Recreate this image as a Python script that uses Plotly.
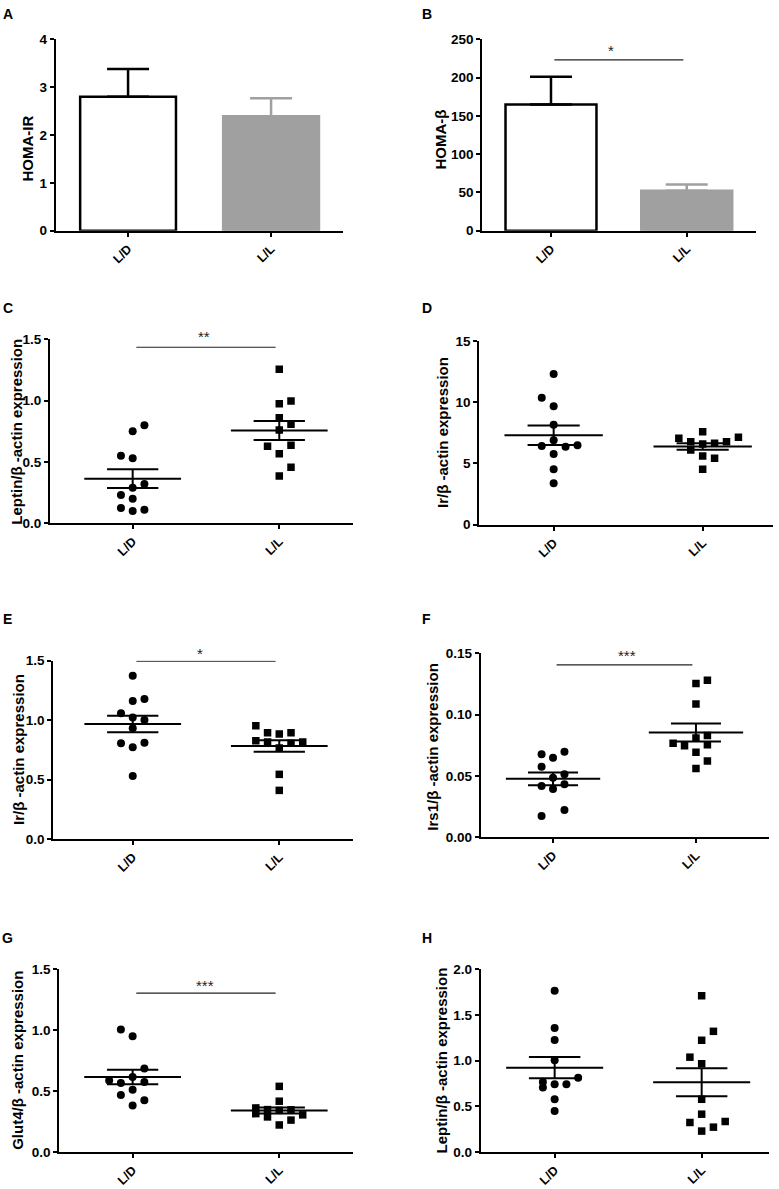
import numpy as np
import plotly.graph_objects as go

W, H = 779, 1189
groups = ["L/D", "L/L"]

# ---------------- data ----------------
# Panel A: HOMA-IR (mean, SEM)
homa_ir_mean = [2.80, 2.39]
homa_ir_sem = [0.58, 0.38]
# Panel B: HOMA-beta (mean, SEM)
homa_b_mean = [165.0, 52.3]
homa_b_sem = [36.0, 8.2]

# Panel C: Leptin / beta-actin
C_LD = [0.80, 0.75, 0.55, 0.53, 0.29, 0.32, 0.23, 0.20, 0.125, 0.10, 0.11]
C_LL = [1.255, 0.975, 0.997, 0.86, 0.807, 0.76, 0.628, 0.636, 0.568, 0.457, 0.386]
# Panel D: Ir / beta-actin
D_LD = [12.31, 10.37, 9.67, 8.17, 6.89, 6.43, 6.37, 6.48, 5.77, 4.52, 3.38]
D_LL = [7.59, 7.05, 7.14, 6.78, 6.59, 6.65, 6.78, 6.10, 5.61, 5.42, 4.52]
# Panel E: Ir / beta-actin
E_LD = [1.374, 1.161, 1.178, 1.057, 1.023, 1.001, 0.931, 0.805, 0.771, 0.810, 0.530]
E_LL = [0.953, 0.894, 0.883, 0.894, 0.827, 0.816, 0.805, 0.816, 0.765, 0.544, 0.409]
# Panel F: Irs1 / beta-actin
F_LD = [0.0677, 0.0649, 0.0698, 0.0576, 0.0486, 0.0514, 0.0418, 0.0394, 0.0432, 0.0174, 0.0223]
F_LL = [0.128, 0.1253, 0.1087, 0.0829, 0.081, 0.0766, 0.0747, 0.0755, 0.0693, 0.0622, 0.056]
# Panel G: Glut4 / beta-actin
G_LD = [1.005, 0.950, 0.686, 0.615, 0.588, 0.566, 0.574, 0.512, 0.468, 0.425, 0.381]
G_LL = [0.539, 0.417, 0.362, 0.348, 0.342, 0.346, 0.315, 0.288, 0.305, 0.262, 0.222]
# Panel H: Leptin / beta-actin
H_LD = [1.764, 1.358, 1.227, 1.005, 0.766, 0.705, 0.741, 0.741, 0.813, 0.577, 0.45]
H_LL = [1.71, 1.321, 1.223, 1.038, 0.966, 0.577, 0.414, 0.323, 0.334, 0.272, 0.229]

# swarm column (horizontal slot) of each point, layout only
C_LD_col = [1, 0, -1, 0, 0, 1, -1, 0, -1, 0, 1]
C_LL_col = [0, 0, 1, 0, 1, 0, -1, 1, 0, 1, 0]
D_LD_col = [0, -1, 0, 0, 0, -1, 1, 2, 0, 0, 0]
D_LL_col = [0, -2, 3, -1, 0, 1, 2, -1, 0, 1, 0]
E_LD_col = [0, 0, 1, -1, 0, 1, 0, -1, 0, 1, 0]
E_LL_col = [-2, -1, 0, 1, -2, -1, 1, 2, 0, 0, 0]
F_LD_col = [-1, 0, 1, -1, 0, 1, -1, 0, 1, -1, 1]
F_LL_col = [1, 0, 0, 1, 0, -2, -1, 1, 0, 1, 0]
G_LD_col = [-1, 0, 1, 0, -2, -1, 1, 0, -1, 1, 0]
G_LL_col = [0, 0, -2, -1, 0, 1, -2, -1, 2, 1, 0]
H_LD_col = [0, 0, 0, 0, -1, -1, 0, 1, 2, 0, 0]
H_LL_col = [0, 1, 0, -1, 0, 0, 0, -1, 2, 1, 0]

y_titles = ["HOMA-IR", "HOMA-β", "Leptin/β -actin expression", "Ir/β -actin expression",
            "Ir/β -actin expression", "Irs1/β -actin expression",
            "Glut4/β -actin expression", "Leptin/β -actin expression"]
panel_letters = ["A", "B", "C", "D", "E", "F", "G", "H"]
sig_text = {2: "*", 3: "**", 5: "*", 6: "***", 7: "***"}
sig_y = {2: 223, 3: 1.435, 5: 1.497, 6: 0.1405, 7: 1.304}

# ---------------- layout geometry (pixels) ----------------
boxes = {  # x0, x1, ytop, ybottom
    1: (55.7, 343, 39.3, 230.7),
    2: (482.3, 755.7, 39.3, 230.7),
    3: (50, 353, 339.3, 523.3),
    4: (479.3, 773, 341, 524.7),
    5: (53.3, 353, 660.7, 839),
    6: (480.7, 769.3, 653.3, 837.3),
    7: (59.3, 353, 969.3, 1152),
    8: (480.7, 769.3, 969.3, 1152),
}
xranges = {1: [-0.506, 1.503], 2: [-0.506, 1.508], 3: [-0.564, 1.503], 4: [-0.499, 1.472],
           5: [-0.542, 1.503], 6: [-0.506, 1.513], 7: [-0.5, 1.503], 8: [-0.503, 1.46]}
yaxes_cfg = {
    1: dict(range=[0, 4], dtick=1, tickformat="d"),
    2: dict(range=[0, 250], dtick=50, tickformat="d"),
    3: dict(range=[0, 1.5], dtick=0.5, tickformat=".1f"),
    4: dict(range=[0, 15], dtick=5, tickformat="d"),
    5: dict(range=[0, 1.5], dtick=0.5, tickformat=".1f"),
    6: dict(range=[0, 0.15], dtick=0.05, tickformat=".2f"),
    7: dict(range=[0, 1.5], dtick=0.5, tickformat=".1f"),
    8: dict(range=[0, 2.0], dtick=0.5, tickformat=".1f"),
}
title_pos = {1: (27.5, 148), 2: (440.5, 140), 3: (17, 431.7), 4: (442.5, 432.5),
             5: (18, 750), 6: (433, 746.7), 7: (18, 1060.8), 8: (441.7, 1060.8)}
letter_pos = {1: (8, 13.5), 2: (427, 13.5), 3: (8, 308.5), 4: (427, 308), 5: (8, 618.5),
              6: (427, 618.5), 7: (8, 937.5), 8: (427, 937.5)}
star_pos = {2: (610.7, 50), 3: (204, 336), 5: (200, 653), 6: (626.7, 655), 7: (205, 985)}

FONT = "Liberation Sans, Arial, sans-serif"
COL_STEP = 0.08
MEAN_HW = 0.33
SEM_HW = 0.175

fig = go.Figure()


def ax(i, kind):
    return kind if i == 1 else f"{kind}{i}"


# ---------------- bar panels ----------------
bar_colors = ["white", "#a0a0a0"]
bar_lines = ["black", "#a0a0a0"]
for i, (means, sems) in {1: (homa_ir_mean, homa_ir_sem), 2: (homa_b_mean, homa_b_sem)}.items():
    for g in range(2):
        fig.add_trace(go.Bar(
            x=[g], y=[means[g]], width=0.67,
            marker=dict(color=bar_colors[g], line=dict(color=bar_lines[g], width=2.5)),
            error_y=dict(type="data", array=[sems[g]], arrayminus=[0], symmetric=False,
                         color=bar_lines[g], thickness=2.5, width=21),
            xaxis=ax(i, "x"), yaxis=ax(i, "y"), showlegend=False,
        ))

# ---------------- scatter panels ----------------
scatter_panels = {
    3: (C_LD, C_LL, C_LD_col, C_LL_col),
    4: (D_LD, D_LL, D_LD_col, D_LL_col),
    5: (E_LD, E_LL, E_LD_col, E_LL_col),
    6: (F_LD, F_LL, F_LD_col, F_LL_col),
    7: (G_LD, G_LL, G_LD_col, G_LL_col),
    8: (H_LD, H_LL, H_LD_col, H_LL_col),
}
for i, (ld, ll, ldc, llc) in scatter_panels.items():
    for g, (vals, cols, sym) in enumerate([(ld, ldc, "circle"), (ll, llc, "square")]):
        v = np.array(vals)
        xs = g + COL_STEP * np.array(cols)
        fig.add_trace(go.Scatter(
            x=xs, y=v, mode="markers",
            marker=dict(symbol=sym, size=8 if sym == "circle" else 7.5, color="black"),
            xaxis=ax(i, "x"), yaxis=ax(i, "y"), showlegend=False,
        ))
        m = v.mean()
        s = v.std(ddof=1) / np.sqrt(len(v))
        fig.add_trace(go.Scatter(
            x=[g - MEAN_HW, g + MEAN_HW, None,
               g - SEM_HW, g + SEM_HW, None,
               g - SEM_HW, g + SEM_HW, None, g, g],
            y=[m, m, None, m + s, m + s, None, m - s, m - s, None, m - s, m + s],
            mode="lines", line=dict(color="black", width=2),
            xaxis=ax(i, "x"), yaxis=ax(i, "y"), showlegend=False,
        ))

# ---------------- axes ----------------
YTICKFONT = dict(family=FONT, size=13.5, color="black", weight="bold")
XTICKFONT = dict(family=FONT, size=12.5, color="black", weight="bold")
layout_axes = {}
for i in range(1, 9):
    x0, x1, yt, yb = boxes[i]
    xd = [x0 / W, x1 / W]
    yd = [1 - yb / H, 1 - yt / H]
    xname = "xaxis" if i == 1 else f"xaxis{i}"
    yname = "yaxis" if i == 1 else f"yaxis{i}"
    layout_axes[xname] = dict(
        domain=xd, range=xranges[i], anchor=ax(i, "y"), automargin=False,
        tickvals=[0, 1], ticktext=groups, tickangle=-45,
        showline=True, linecolor="black", linewidth=2,
        ticks="outside", ticklen=4, tickwidth=2, tickcolor="black",
        showgrid=False, zeroline=False, fixedrange=True,
        tickfont=XTICKFONT,
    )
    yc = yaxes_cfg[i]
    layout_axes[yname] = dict(
        domain=yd, range=yc["range"], dtick=yc["dtick"], tick0=0, tickformat=yc["tickformat"],
        anchor=ax(i, "x"), automargin=False,
        showline=True, linecolor="black", linewidth=2,
        ticks="outside", ticklen=4, tickwidth=2, tickcolor="black",
        showgrid=False, zeroline=False, fixedrange=True,
        tickfont=YTICKFONT,
    )

annotations = []
for i in range(1, 9):
    tx, ty = title_pos[i]
    annotations.append(dict(
        x=tx / W, y=1 - ty / H, xref="paper", yref="paper", text=y_titles[i - 1],
        textangle=-90, showarrow=False, xanchor="center", yanchor="middle",
        font=dict(family=FONT, size=15, color="black", weight="bold"),
    ))
    lx, ly = letter_pos[i]
    annotations.append(dict(
        x=lx / W, y=1 - ly / H, xref="paper", yref="paper", text=panel_letters[i - 1],
        showarrow=False, xanchor="center", yanchor="middle",
        font=dict(family=FONT, size=14, color="black", weight="bold"),
    ))

shapes = []
for i, txt in sig_text.items():
    shapes.append(dict(type="line", xref=ax(i, "x"), yref=ax(i, "y"),
                       x0=0.025, x1=0.975, y0=sig_y[i], y1=sig_y[i],
                       line=dict(color="#222222", width=1.2)))
    sx, sy = star_pos[i]
    annotations.append(dict(x=sx / W, y=1 - sy / H, xref="paper", yref="paper",
                            text=txt, showarrow=False, xanchor="center", yanchor="middle",
                            font=dict(family=FONT, size=15, color="#222222")))

fig.update_layout(
    template="none",
    width=W, height=H, margin=dict(l=0, r=0, t=0, b=0, pad=0),
    paper_bgcolor="white", plot_bgcolor="white",
    barmode="overlay", showlegend=False,
    annotations=annotations, shapes=shapes,
    **layout_axes,
)

fig.write_html("out.html", config={"displayModeBar": False},
               post_script="document.body.style.margin='0px';document.body.style.padding='0px';")
